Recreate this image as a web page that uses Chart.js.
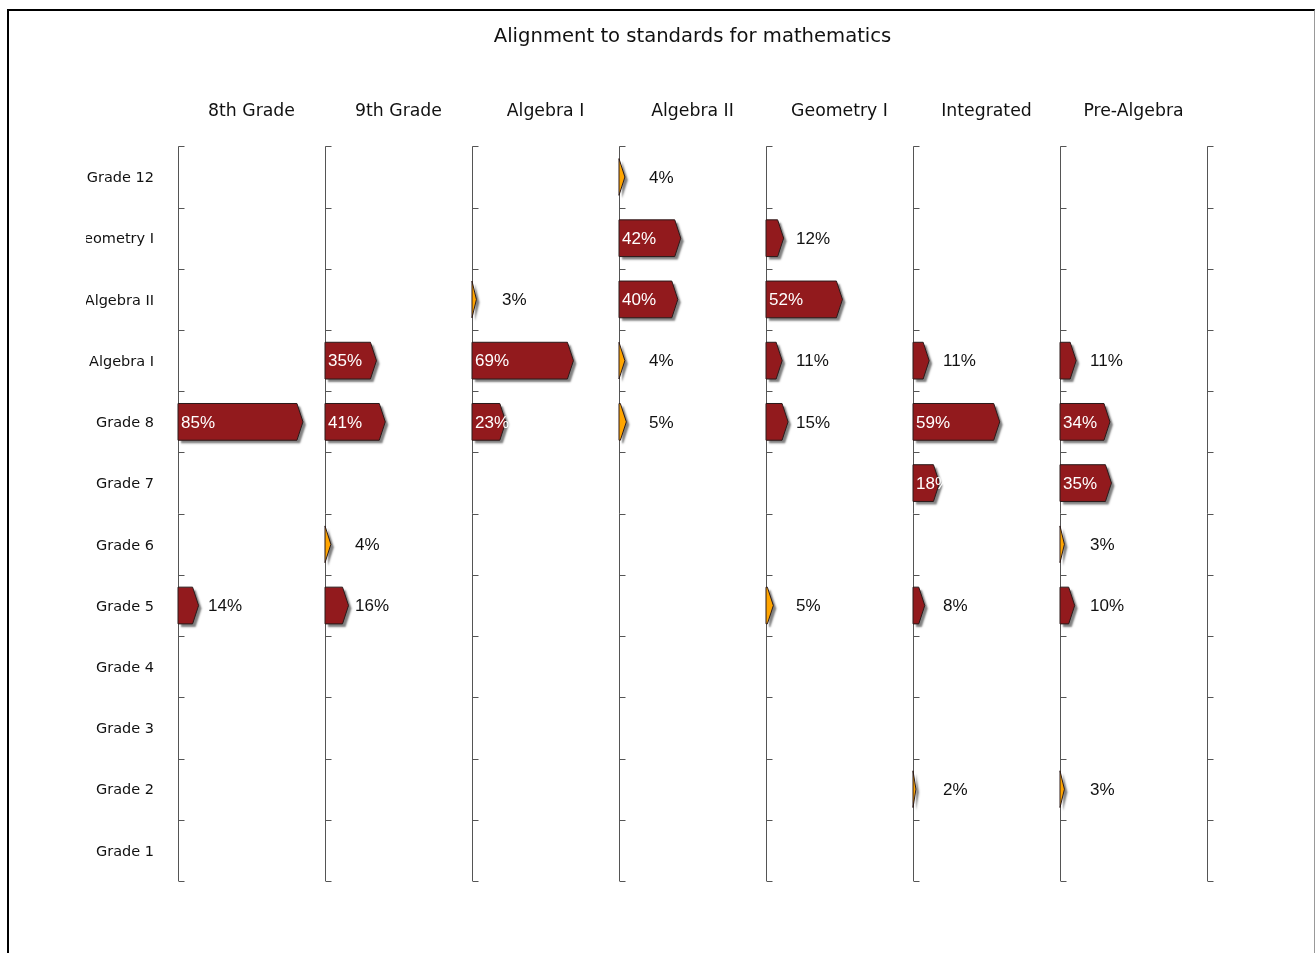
<!DOCTYPE html>
<html>
<head>
<meta charset="utf-8">
<title>Alignment to standards for mathematics</title>
<script src="https://cdn.jsdelivr.net/npm/chart.js@4.4.1/dist/chart.umd.min.js"></script>
<style>
  html, body { margin: 0; padding: 0; background: #fff; overflow: hidden; }
  #marco {
    position: absolute; left: 7px; top: 9px; width: 1305px; height: 1000px;
    border-left: 2px solid #000; border-top: 2px solid #000; border-right: 1px solid #999;
  }
  #caja { position: absolute; left: 86px; top: 11px; width: 1213px; height: 930px; }
</style>
</head>
<body>
<div id="marco"></div>
<div id="caja"><canvas id="myChart"></canvas></div>
<script>
// Categorías (filas) y paneles (columnas)
const categorias = ["Grade 12", "Geometry I", "Algebra II", "Algebra I", "Grade 8", "Grade 7",
                    "Grade 6", "Grade 5", "Grade 4", "Grade 3", "Grade 2", "Grade 1"];
const paneles = ["8th Grade", "9th Grade", "Algebra I", "Algebra II", "Geometry I", "Integrated", "Pre-Algebra"];

// Porcentajes por panel (null = sin barra)
const octavo     = [null, null, null, null, 85, null, null, 14, null, null, null, null];
const noveno     = [null, null, null, 35, 41, null, 4, 16, null, null, null, null];
const algebra1   = [null, null, 3, 69, 23, null, null, null, null, null, null, null];
const algebra2   = [4, 42, 40, 4, 5, null, null, null, null, null, null, null];
const geometria1 = [null, 12, 52, 11, 15, null, null, 5, null, null, null, null];
const integrado  = [null, null, null, 11, 59, 18, null, 8, null, null, 2, null];
const prealgebra = [null, null, null, 11, 34, 35, 3, 10, null, null, 3, null];
const series = [octavo, noveno, algebra1, algebra2, geometria1, integrado, prealgebra];

const escalaMax = 100;

// Colores
const rojo = "rgb(146, 26, 29)";
const naranja = "rgb(255, 165, 0)";

function colorDeValor(v) {
  return v <= 5 ? naranja : rojo;
}

// Líneas de cada panel con sus marcas
const lineasPaneles = {
  id: "lineasPaneles",
  beforeDatasetsDraw(chart) {
    const ctx = chart.ctx;
    const area = chart.chartArea;
    const y = chart.scales.y;
    const paso = y.getPixelForValue(1) - y.getPixelForValue(0);
    const xs = paneles.map((p, i) => chart.scales["x" + i].left);
    xs.push(area.right);
    ctx.save();
    ctx.strokeStyle = "#555";
    ctx.lineWidth = 1;
    xs.forEach(x => {
      const px = Math.round(x) + 0.5;
      ctx.beginPath();
      ctx.moveTo(px, area.top);
      ctx.lineTo(px, area.bottom);
      ctx.stroke();
      for (let i = 0; i <= categorias.length; i++) {
        const py = Math.round(y.getPixelForValue(i) - paso / 2) + 0.5;
        ctx.beginPath();
        ctx.moveTo(px, py);
        ctx.lineTo(px + 6, py);
        ctx.stroke();
      }
    });
    ctx.restore();
  }
};

// Barras en forma de flecha con sombra y etiquetas
const flechas = {
  id: "flechas",
  afterDatasetsDraw(chart) {
    const ctx = chart.ctx;
    chart.data.datasets.forEach((ds, di) => {
      const meta = chart.getDatasetMeta(di);
      const xScale = chart.scales[ds.xAxisID];
      meta.data.forEach((bar, i) => {
        const v = ds.data[i];
        if (v === null || v === undefined) return;
        const p = bar.getProps(["x", "y", "base", "height"], true);
        const top = p.y - p.height / 2;
        const bottom = p.y + p.height / 2;
        const ancho = p.x - p.base;
        const punta = Math.min(6, ancho);

        ctx.save();
        ctx.beginPath();
        ctx.moveTo(p.base, top);
        ctx.lineTo(p.x - punta, top);
        ctx.lineTo(p.x, p.y);
        ctx.lineTo(p.x - punta, bottom);
        ctx.lineTo(p.base, bottom);
        ctx.closePath();
        ctx.shadowColor = "rgba(0, 0, 0, 0.5)";
        ctx.shadowOffsetX = 3;
        ctx.shadowOffsetY = 3;
        ctx.shadowBlur = 2;
        ctx.fillStyle = colorDeValor(v);
        ctx.fill();
        ctx.shadowColor = "transparent";
        ctx.strokeStyle = "#2a1a1a";
        ctx.lineWidth = 1;
        ctx.stroke();
        ctx.restore();

        // Etiqueta: dentro en blanco, fuera en negro
        ctx.save();
        ctx.font = "17px 'Liberation Sans', Arial, sans-serif";
        ctx.textBaseline = "middle";
        ctx.textAlign = "left";
        if (v >= 17) {
          ctx.fillStyle = "#fff";
          ctx.fillText(v + "%", p.base + 3, p.y + 1);
        } else {
          ctx.fillStyle = "#111";
          ctx.fillText(v + "%", xScale.getPixelForValue(0) + 30, p.y + 1);
        }
        ctx.restore();
      });
    });
  }
};

// Construir datasets y escalas
const datasets = series.map((serie, i) => ({
  label: paneles[i],
  data: serie,
  xAxisID: "x" + i,
  yAxisID: "y",
  backgroundColor: "rgba(0,0,0,0)",
  borderWidth: 0,
  grouped: false,
  barPercentage: 0.6,
  categoryPercentage: 1
}));

const escalas = {
  y: {
    type: "category",
    position: "left",
    grid: { display: false, drawTicks: false },
    border: { display: false },
    ticks: {
      padding: 24,
      labelOffset: 1.5,
      color: "#111",
      font: { family: "'DejaVu Sans', Verdana, sans-serif", size: 14.5 }
    },
    afterFit(scale) { scale.width = 92; }
  }
};
// Los ejes superiores apilados se colocan en orden inverso
for (let i = paneles.length - 1; i >= 0; i--) {
  escalas["x" + i] = {
    type: "linear",
    position: "top",
    stack: "paneles",
    stackWeight: 1,
    min: 0,
    max: escalaMax,
    grid: { display: false, drawTicks: false },
    border: { display: false },
    ticks: { display: false },
    title: {
      display: true,
      text: paneles[i],
      color: "#111",
      padding: { top: 6, bottom: 24 },
      font: { family: "'DejaVu Sans', Verdana, sans-serif", size: 17.3 }
    }
  };
}
// Eje vacío a la derecha para centrar el título sobre el área
escalas.margenDerecho = {
  type: "category",
  position: "right",
  grid: { display: false, drawTicks: false },
  border: { display: false },
  ticks: { display: false },
  afterFit(scale) { scale.width = 92; }
};

const ctx = document.getElementById("myChart").getContext("2d");
new Chart(ctx, {
  type: "bar",
  data: { labels: categorias, datasets: datasets },
  options: {
    indexAxis: "y",
    responsive: true,
    maintainAspectRatio: false,
    animation: false,
    layout: { padding: { top: 0, right: 0, bottom: 60, left: 0 } },
    scales: escalas,
    plugins: {
      legend: { display: false },
      tooltip: { enabled: false },
      title: {
        display: true,
        text: "Alignment to standards for mathematics",
        color: "#111",
        padding: { top: 14.6, bottom: 46.5 },
        font: { family: "'DejaVu Sans', Verdana, sans-serif", size: 19.6, weight: "normal" }
      }
    }
  },
  plugins: [lineasPaneles, flechas]
});
</script>
</body>
</html>
